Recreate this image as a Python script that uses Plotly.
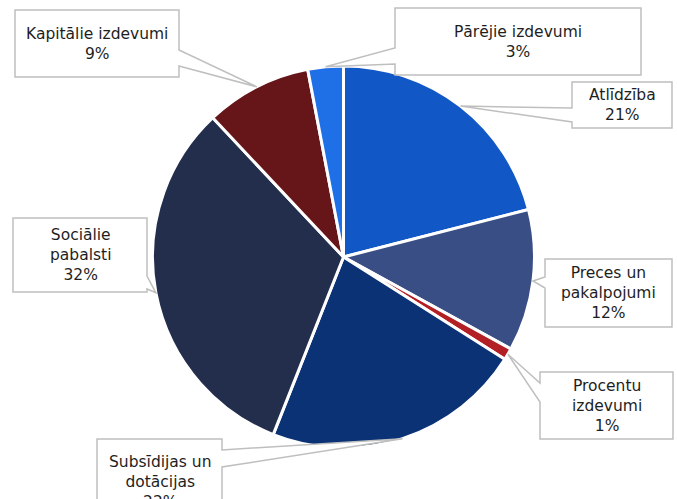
import math
import plotly.graph_objects as go

# ---- data ----
labels = ["Atlīdzība", "Preces un pakalpojumi", "Procentu izdevumi",
          "Subsīdijas un dotācijas", "Sociālie pabalsti",
          "Kapitālie izdevumi", "Pārējie izdevumi"]
label_text = ["Atlīdzība<br>21%", "Preces un<br>pakalpojumi<br>12%",
              "Procentu<br>izdevumi<br>1%", "Subsīdijas un<br>dotācijas<br>22%",
              "Sociālie<br>pabalsti<br>32%", "Kapitālie izdevumi<br>9%",
              "Pārējie izdevumi<br>3%"]
values = [21, 12, 1, 22, 32, 9, 3]
colors = ["#1257C6", "#3A4E86", "#B21F24", "#0A3275", "#222E4C", "#661518", "#1F6FE6"]

# ---- layout constants (pixels) ----
W, H = 677, 499
CX, CY, R = 343.5, 257.0, 191.0

# callout boxes: (left, top, right, bottom, side, base0, base1)
boxes = [
    (572, 82, 672, 128, "L", 108, 122),
    (545, 259, 672, 327, "L", 277, 288),
    (540, 372, 673, 439, "L", 383, 402),
    (97, 439, 222, 515, "R", 450, 467),
    (13, 218, 147, 292, "R", 276, 289),
    (15, 10, 179, 77, "R", 50, 66),
    (395, 8, 641, 75, "L", 48, 64),
]
text_cy = [105, 293, 406, 482, 255, 44, 42]

def px(x):
    return x / W

def py(y):
    return 1 - y / H

fig = go.Figure(go.Pie(
    labels=labels, values=values, sort=False, direction="clockwise",
    rotation=0, textinfo="none", hoverinfo="label+percent",
    marker=dict(colors=colors, line=dict(color="white", width=3)),
    domain=dict(x=[px(CX - R), px(CX + R)], y=[py(CY + R), py(CY - R)]),
    showlegend=False,
))

total = sum(values)
cum = 0
shapes = []
annotations = []
for i, v in enumerate(values):
    mid = (cum + v / 2) / total * 2 * math.pi
    cum += v
    tx = CX + R * math.sin(mid)
    ty = CY - R * math.cos(mid)
    l, t, r, b, side, b0, b1 = boxes[i]
    if side == "L":
        pts = [(l, t), (r, t), (r, b), (l, b), (l, b1), (tx, ty), (l, b0)]
    else:
        pts = [(l, t), (r, t), (r, b0), (tx, ty), (r, b1), (r, b), (l, b)]
    path = "M " + " L ".join(f"{px(x):.5f},{py(y):.5f}" for x, y in pts) + " Z"
    shapes.append(dict(type="path", path=path, xref="paper", yref="paper",
                       fillcolor="white", line=dict(color="#BFBFBF", width=1.5),
                       layer="above"))
    annotations.append(dict(x=px((l + r) / 2), y=py(text_cy[i]), xref="paper", yref="paper",
                            text=label_text[i], showarrow=False, xanchor="center",
                            yanchor="middle", align="center",
                            font=dict(family="DejaVu Sans", size=15.5, color="#1E1E1E")))

fig.update_layout(
    width=W, height=H, margin=dict(l=0, r=0, t=0, b=0),
    paper_bgcolor="white", plot_bgcolor="white",
    shapes=shapes, annotations=annotations,
)
fig.write_html("out.html", config={"displayModeBar": False},
               post_script="document.body.style.margin='0';")
